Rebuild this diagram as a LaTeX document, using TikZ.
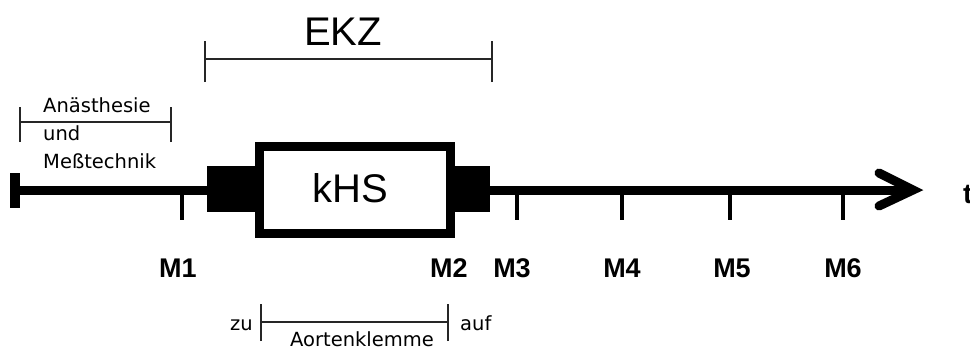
\documentclass[tikz,border=0pt]{standalone}
\usepackage{fontspec}
\setmainfont{Liberation Sans}
\newfontfamily\labelfont{DejaVu Sans}
\begin{document}
\begin{tikzpicture}[x=1pt,y=-1pt,
  bracket/.style={line width=1.8pt, draw=black!85},
  axisline/.style={line width=9pt, draw=black},
  tickline/.style={line width=4pt, draw=black},
  smalltext/.style={font=\labelfont\fontsize{19.5}{19.5}\selectfont, inner sep=0pt, anchor=base west},
  bigtext/.style={font=\fontsize{40}{40}\selectfont, inner sep=0pt, anchor=base},
  mtext/.style={font=\bfseries\fontsize{27}{27}\selectfont, inner sep=0pt, anchor=base},
  block/.style={fill=black, draw=none}]
\useasboundingbox (0,0) rectangle (970,349);

% EKZ bracket
\coordinate (ekzL) at (205,59);
\coordinate (ekzR) at (492,59);
\draw[bracket] (ekzL) -- (ekzR);
\draw[bracket] ([yshift=-23pt]ekzL) -- ([yshift=18pt]ekzL);
\draw[bracket] ([yshift=-23pt]ekzR) -- ([yshift=18pt]ekzR);
\node[bigtext] (ekz) at (343,45) {EKZ};

% Anaesthesie bracket
\coordinate (anL) at (20,122);
\coordinate (anR) at (171,122);
\draw[bracket] (anL) -- (anR);
\draw[bracket] ([yshift=-20pt]anL) -- ([yshift=15pt]anL);
\draw[bracket] ([yshift=-20pt]anR) -- ([yshift=15pt]anR);
\node[smalltext] (an1) at (43,112) {Anästhesie};
\node[smalltext] (an2) at (43,140) {und};
\node[smalltext] (an3) at (43,168) {Meßtechnik};

% main axis
\coordinate (start) at (15,190);
\coordinate (tip) at (912,190);
\draw[axisline] (start) -- (tip);
\fill (10,173) rectangle (20,208);
\draw[line width=9pt, line cap=round, line join=miter] (879,173) -- (913,190) -- (879,206);
\node[font=\bfseries\fontsize{28}{28}\selectfont, inner sep=0pt, anchor=base west] (t) at (963,203) {t};

% blocks and kHS box
\fill[block] (207,166) rectangle (257,212);
\fill[block] (453,166) rectangle (490,212);
\node[draw=black, line width=9pt, fill=white, minimum width=191pt, minimum height=87pt, inner sep=0pt] (khs) at (355,190) {};
\node[bigtext] (khslabel) at (350,202) {kHS};

% ticks and labels
\foreach \n/\x/\lx in {M1/182/178, M3/517/512, M4/622/622, M5/730/732, M6/843/843}{
  \coordinate (tick\n) at (\x,190);
  \draw[tickline] (tick\n) -- ++(0,30);
  \node[mtext] (lab\n) at (\lx,277) {\n};
}
\node[mtext] (labM2) at (449,277) {M2};

% Aortenklemme bracket
\coordinate (akL) at (261,322);
\coordinate (akR) at (448,322);
\draw[bracket] (akL) -- (akR);
\draw[bracket] ([yshift=-19pt]akL) -- ([yshift=18pt]akL);
\draw[bracket] ([yshift=-19pt]akR) -- ([yshift=18pt]akR);
\node[smalltext] (zu) at (230,330) {zu};
\node[smalltext] (auf) at (460,330) {auf};
\node[smalltext] (aorta) at (290,346) {Aortenklemme};
\end{tikzpicture}
\end{document}
